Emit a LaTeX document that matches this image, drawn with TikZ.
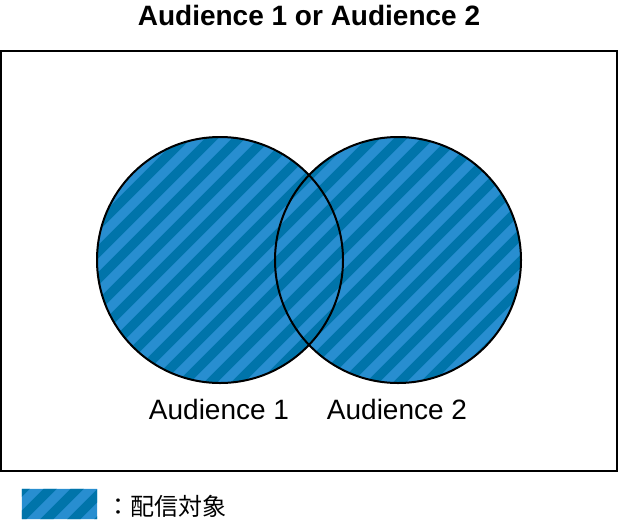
\documentclass[tikz,border=0pt]{standalone}
\usepackage{fontspec}
\setmainfont{Liberation Sans}
\newfontfamily\cjk{Noto Sans CJK JP}
\definecolor{stripelight}{RGB}{40,142,208}
\definecolor{stripedark}{RGB}{0,116,170}

\begin{document}
\begin{tikzpicture}[x=1pt,y=-1pt,
    venn/.style={circle, minimum size=246pt, inner sep=0pt},
    stripe/.style={line width=9.5pt, draw=stripedark},
    big/.style={font=\fontsize{28}{34}\selectfont}]

      \useasboundingbox (0,0) rectangle (618,520);

      \node[big, font=\bfseries\fontsize{28}{34}\selectfont, anchor=base] (title) at (309,25) {Audience 1 or Audience 2};

      \draw[line width=2pt] (1,51) rectangle (617,471);

      \node[venn] (aud1) at (220,260) {};
      \node[venn] (aud2) at (398,260) {};
      \node[rectangle,
            inner sep=0pt,
            minimum width = 75pt,
            minimum height = 30pt] (leg) at (59.5,504) {};

      % hatched fill
      \begin{scope}
        \clip (aud1.center) circle[radius=123pt]
              (aud2.center) circle[radius=123pt]
              (leg.south west) rectangle (leg.north east);
        \fill[stripelight] (0,0) rectangle (618,520);
        \foreach \k in {0,...,40}
          \draw[stripe] ({26+27*\k},0) -- ({26+27*\k-700},700);
      \end{scope}

      \draw[line width=2pt] (aud1.center) circle[radius=123pt];
      \draw[line width=2pt] (aud2.center) circle[radius=123pt];

      \node[big, anchor=base] (lab1) at (219,419) {Audience 1};
      \node[big, anchor=base] (lab2) at (397,419) {Audience 2};

      \node[anchor=base west, inner sep=0pt, font=\cjk\fontsize{24}{28}\selectfont] (legtext) at (106,515) {：配信対象};

\end{tikzpicture}
\end{document}
